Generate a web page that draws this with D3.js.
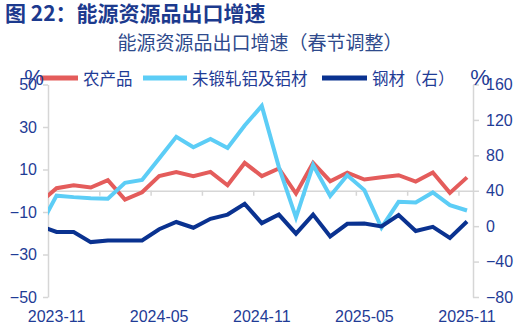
<!DOCTYPE html>
<html>
<head>
<meta charset="utf-8">
<script src="https://cdn.jsdelivr.net/npm/d3@7/dist/d3.min.js"></script>
<style>
  html, body { margin: 0; padding: 0; background: #fff; }
  svg { display: block; }
</style>
</head>
<body>
<svg id="chart" width="520" height="335"></svg>
<script>
// Monthly export growth (%), Spring-Festival adjusted
const months = [
  "2023-10","2023-11","2023-12","2024-01","2024-02","2024-03","2024-04","2024-05",
  "2024-06","2024-07","2024-08","2024-09","2024-10","2024-11","2024-12","2025-01",
  "2025-02","2025-03","2025-04","2025-05","2025-06","2025-07","2025-08","2025-09",
  "2025-10","2025-11"
];
// 农产品 (left axis)
const agriculture = [
  -5.8, 1.2, 2.6, 1.5, 5.0, -4.2, -0.7, 6.9, 8.8, 6.9, 8.9, 2.6, 13.1,
  6.9, 10.5, -1.3, 13.1, 4.5, 8.5, 5.3, 6.4, 7.3, 4.3, 8.6, -1.0, 6.3
];
// 未锻轧铝及铝材 (left axis)
const aluminium = [
  -17.2, -2.3, -3.0, -3.5, -3.8, 3.7, 5.1, 15.2, 25.4, 20.5, 24.4, 20.1, 30.7,
  39.9, 11.1, -12.6, 12.1, -2.5, 7.3, 0.3, -17.4, -5.2, -5.5, -0.8, -6.8, -9.3
];
// 钢材 (right axis)
const steel = [
  0.4, -6.5, -6.5, -18.0, -16.1, -16.1, -16.1, -3.5, 4.7, -1.8, 8.3, 13.1, 25.2,
  3.4, 13.1, -8.5, 13.1, -11.6, 2.7, 3.0, -0.3, 12.6, -5.4, -0.7, -13.3, 5.3
];
const leftTicks = [-50, -30, -10, 10, 30, 50];
const rightTicks = [-80, -40, 0, 40, 80, 120, 160];
const xLabels = ["2023-11", "2024-05", "2024-11", "2025-05", "2025-11"];
const seriesNames = ["农产品", "未锻轧铝及铝材", "钢材（右）"];

const colors = { agriculture: "#e45c5b", aluminium: "#5ccdf6", steel: "#0a3290" };
const textBlue = "#1f3c96";
const axisGray = "#d6d6d6";
const numFont = "'Liberation Sans', Arial, sans-serif";
const cjkFont = "'Noto Sans CJK SC', 'Noto Sans', sans-serif";

const svg = d3.select("#chart");
const plot = { left: 48, right: 473, top: 84.5, bottom: 297 };

const x = d3.scaleLinear().domain([0.5, 25.35]).range([plot.left, plot.right]);
const yL = d3.scaleLinear().domain([-50, 50]).range([plot.bottom, plot.top]);
const yR = d3.scaleLinear().domain([-80, 160]).range([plot.bottom, plot.top]);

// Titles
svg.append("text")
  .attr("x", 5).attr("y", 21)
  .attr("font-family", cjkFont).attr("font-size", 21).attr("font-weight", "bold")
  .attr("fill", "#1c3a8e")
  .text("图 22：能源资源品出口增速");

svg.append("text")
  .attr("x", 260).attr("y", 50)
  .attr("text-anchor", "middle")
  .attr("font-family", cjkFont).attr("font-size", 19)
  .attr("fill", "#2e4a8c")
  .text("能源资源品出口增速（春节调整）");

// Axes
function styleAxis(g) {
  g.select(".domain").attr("stroke", axisGray).attr("stroke-width", 1.5);
  g.selectAll(".tick line").attr("stroke", axisGray).attr("stroke-width", 1.5);
  g.selectAll(".tick text")
    .attr("fill", textBlue).attr("font-family", numFont).attr("font-size", 16);
}

svg.append("g")
  .attr("transform", `translate(${plot.left},0)`)
  .call(d3.axisLeft(yL).tickValues(leftTicks).tickSize(5).tickPadding(6).tickSizeOuter(0))
  .call(styleAxis);

svg.append("g")
  .attr("transform", `translate(${plot.right},0)`)
  .call(d3.axisRight(yR).tickValues(rightTicks).tickSize(6).tickPadding(7).tickSizeOuter(0))
  .call(styleAxis);

// Horizontal axis line at zero with quarterly tick marks
svg.append("g")
  .attr("transform", `translate(0,${yL(0)})`)
  .call(d3.axisBottom(x).tickValues(d3.range(3.5, 25, 3)).tickSize(5)
    .tickFormat(() => "").tickSizeOuter(0))
  .call(styleAxis);

// Date labels along the bottom
svg.append("g").selectAll("text")
  .data(xLabels)
  .join("text")
  .attr("x", d => x(months.indexOf(d)))
  .attr("y", 322)
  .attr("text-anchor", "middle")
  .attr("font-family", numFont).attr("font-size", 16)
  .attr("fill", textBlue)
  .text(d => d);

// Lines
svg.append("clipPath").attr("id", "plot-clip")
  .append("rect")
  .attr("x", plot.left).attr("y", 0)
  .attr("width", plot.right - plot.left).attr("height", 335);

const lines = svg.append("g").attr("clip-path", "url(#plot-clip)");
const lineL = d3.line().x((d, i) => x(i)).y(d => yL(d));
const lineR = d3.line().x((d, i) => x(i)).y(d => yR(d));

lines.append("path").datum(agriculture)
  .attr("d", lineL).attr("fill", "none")
  .attr("stroke", colors.agriculture).attr("stroke-width", 4);
lines.append("path").datum(aluminium)
  .attr("d", lineL).attr("fill", "none")
  .attr("stroke", colors.aluminium).attr("stroke-width", 4);
lines.append("path").datum(steel)
  .attr("d", lineR).attr("fill", "none")
  .attr("stroke", colors.steel).attr("stroke-width", 4);

// Legend
const legendItems = [
  { name: seriesNames[0], color: colors.agriculture, x0: 40, x1: 78 },
  { name: seriesNames[1], color: colors.aluminium, x0: 143, x1: 187 },
  { name: seriesNames[2], color: colors.steel, x0: 322, x1: 367 }
];
const legend = svg.append("g");
legendItems.forEach(item => {
  legend.append("line")
    .attr("x1", item.x0).attr("x2", item.x1)
    .attr("y1", 78).attr("y2", 78)
    .attr("stroke", item.color).attr("stroke-width", 5);
  legend.append("text")
    .attr("x", item.x1 + 5).attr("y", 84.5)
    .attr("font-family", cjkFont).attr("font-size", 16.5)
    .attr("fill", textBlue)
    .text(item.name);
});

// Unit marks
svg.append("text")
  .attr("x", 34).attr("y", 85).attr("text-anchor", "middle")
  .attr("font-family", numFont).attr("font-size", 22)
  .attr("fill", textBlue).text("%");
svg.append("text")
  .attr("x", 480).attr("y", 85).attr("text-anchor", "middle")
  .attr("font-family", numFont).attr("font-size", 22)
  .attr("fill", textBlue).text("%");
</script>
</body>
</html>
